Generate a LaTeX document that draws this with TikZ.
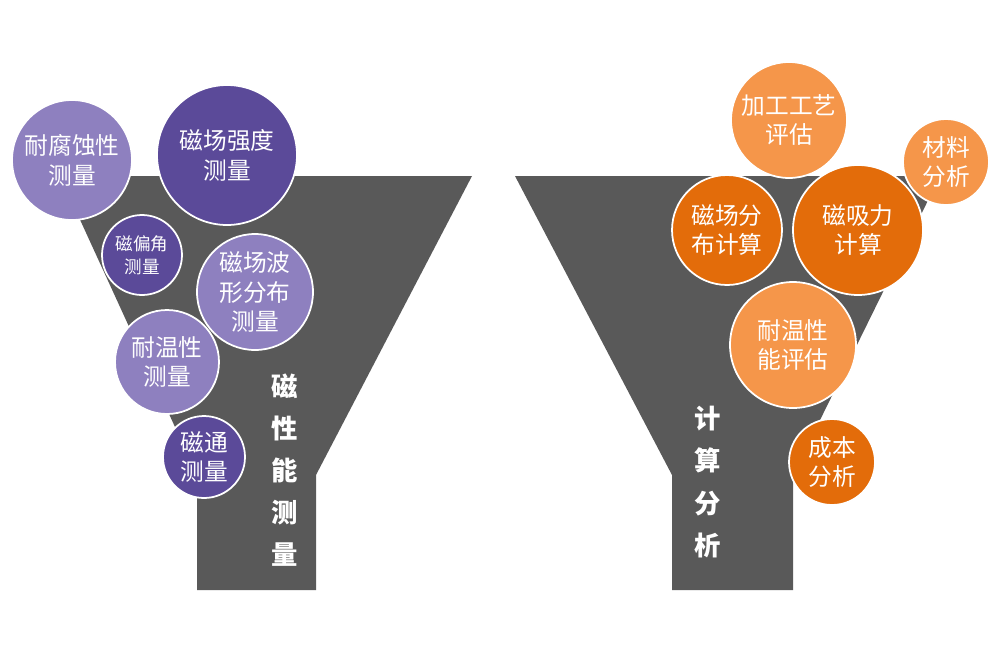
\documentclass[tikz,border=0pt]{standalone}
\usepackage{fontspec}
\setmainfont{Noto Sans CJK SC}
\begin{document}
\begin{tikzpicture}[x=0.02cm,y=-0.02cm,
 funnel/.style={fill=black!65,draw=none},
 bub/.style={circle,draw=white,line width=1pt,text=white,align=center,inner sep=0pt,font=\fontsize{13.5}{17}\selectfont},
 pl/.style={bub,fill=purple1},pd/.style={bub,fill=purple2},
 ol/.style={bub,fill=orange1},od/.style={bub,fill=orange2},
 vt/.style={text=white,align=center,font=\fontsize{15}{24}\selectfont\bfseries}]
\definecolor{purple1}{HTML}{8E80BF}\definecolor{purple2}{HTML}{5B4A99}
\definecolor{orange1}{HTML}{F5964A}\definecolor{orange2}{HTML}{E36C0A}
\useasboundingbox (0,0) rectangle (1000,660);
\fill[white] (0,0) rectangle (1000,660);
\fill[funnel] (60,176) -- (472,176) -- (316,475) -- (316,590) -- (197,590) -- (197,475) -- cycle;
\fill[funnel] (515,176) -- (940,176) -- (793,475) -- (793,590) -- (672,590) -- (672,475) -- cycle;
\node[pl,minimum size=2.4cm] (a1) at (72,160) {耐腐蚀性\\测量};
\node[pd,minimum size=2.8cm] (a2) at (227,155) {磁场强度\\测量};
\node[pd,minimum size=1.6cm,font=\fontsize{10}{13}\selectfont] (a3) at (142,255) {磁偏角\\测量};
\node[pl,minimum size=2.32cm] (a4) at (255,292) {磁场波\\形分布\\测量};
\node[pl,minimum size=2.08cm] (a5) at (167,362) {耐温性\\测量};
\node[pd,minimum size=1.64cm] (a6) at (204,457) {磁通\\测量};
\node[vt] (t1) at (285,470) {磁\\性\\能\\测\\量};
\node[ol,minimum size=2.32cm] (b1) at (789,120) {加工工艺\\评估};
\node[ol,minimum size=1.72cm] (b2) at (946,162) {材料\\分析};
\node[od,minimum size=2.2cm] (b3) at (727,230) {磁场分\\布计算};
\node[od,minimum size=2.6cm] (b4) at (858,230) {磁吸力\\计算};
\node[ol,minimum size=2.52cm] (b5) at (793,345) {耐温性\\能评估};
\node[od,minimum size=1.72cm] (b6) at (832,462) {成本\\分析};
\node[vt] (t2) at (708,482) {计\\算\\分\\析};
\end{tikzpicture}
\end{document}
